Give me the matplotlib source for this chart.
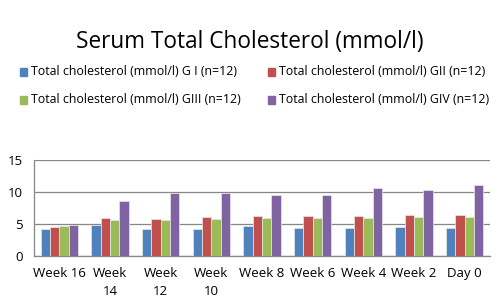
import numpy as np
import matplotlib
matplotlib.use("Agg")
from matplotlib import pyplot as plt

categories = ["Week 16", "Week\n14", "Week\n12", "Week\n10", "Week 8", "Week 6", "Week 4", "Week 2", "Day 0"]
g1 = [4.2, 4.8, 4.2, 4.2, 4.7, 4.4, 4.3, 4.5, 4.3]
g2 = [4.6, 5.9, 5.8, 6.1, 6.2, 6.25, 6.3, 6.35, 6.35]
g3 = [4.7, 5.7, 5.6, 5.8, 5.9, 5.9, 6.0, 6.1, 6.15]
g4 = [4.9, 8.6, 9.8, 9.9, 9.6, 9.5, 10.6, 10.3, 11.1]
series_names = ["Total cholesterol (mmol/l) G I (n=12)",
                "Total cholesterol (mmol/l) GII (n=12)",
                "Total cholesterol (mmol/l) GIII (n=12)",
                "Total cholesterol (mmol/l) GIV (n=12)"]
yticks = [0, 5, 10, 15]

colors = ["#4F81BD", "#C0504D", "#9BBB59", "#8064A2"]
plt.rcParams['font.family'] = ['Open Sans', 'DejaVu Sans']

fig = plt.figure(figsize=(5.0, 3.05), dpi=100)
ax = fig.add_axes([34 / 500, 1 - 256 / 305, 456 / 500, 96 / 305])

x = np.arange(len(categories))
w = 0.185
for i, (vals, c) in enumerate(zip([g1, g2, g3, g4], colors)):
    ax.bar(x + (i - 1.5) * w, vals, w, color=c, edgecolor="#e8e8e8", linewidth=0.5, zorder=3)

ax.set_xlim(-0.5, len(categories) - 0.5)
ax.set_ylim(0, 15)
ax.set_yticks(yticks)
ax.yaxis.grid(True, color="#878787", linewidth=0.9, zorder=0)
ax.set_xticks(x)
ax.set_xticklabels(categories, fontsize=9.5, linespacing=1.5)
ax.tick_params(axis="both", length=0, labelsize=9.5)
ax.tick_params(axis="x", pad=8)
ax.tick_params(axis="y", pad=8)
for s in ["top", "right"]:
    ax.spines[s].set_visible(False)
for s in ["left", "bottom"]:
    ax.spines[s].set_color("#878787")
    ax.spines[s].set_linewidth(0.9)

fig.text(0.5, 1 - 42 / 305, "Serum Total Cholesterol (mmol/l)", ha="center", va="center", fontsize=16.3)

leg_pos = [(20, 72), (268, 72), (20, 100), (268, 100)]
for (lx, ly), name, c in zip(leg_pos, series_names, colors):
    fig.patches.append(plt.Rectangle((lx / 500, 1 - (ly + 3.5) / 305), 7 / 500, 7 / 305,
                                     transform=fig.transFigure, color=c, figure=fig))
    fig.text((lx + 11) / 500, 1 - ly / 305, name, ha="left", va="center", fontsize=8.9)

fig.savefig("out.png", dpi=100)
